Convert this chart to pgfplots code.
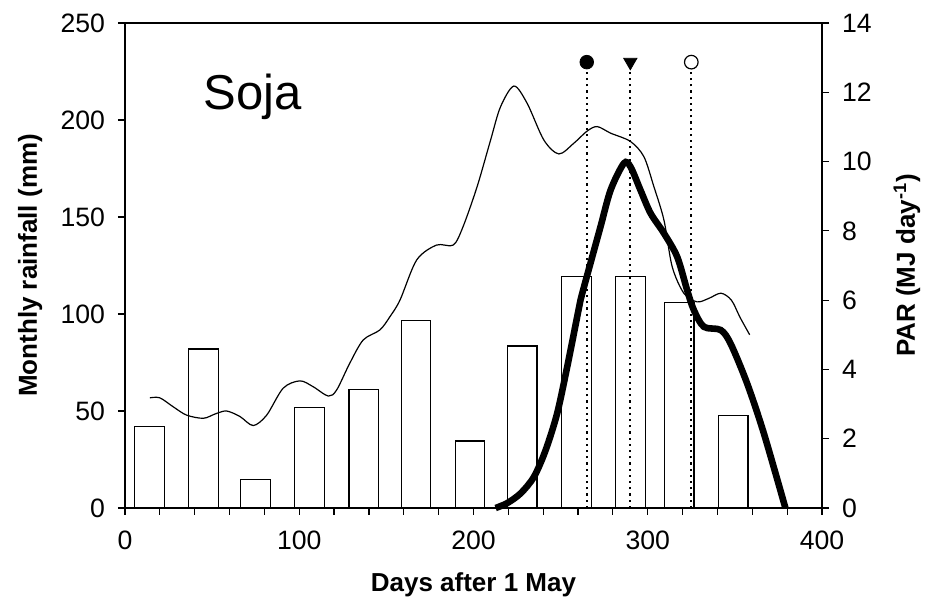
\documentclass[border=0pt]{standalone}
\usepackage{pgfplots}
\pgfplotsset{compat=1.18}
\usepackage{fontspec}
\setmainfont{Liberation Sans}
\begin{document}
\begin{tikzpicture}
\path[use as bounding box] (-62.5pt,-46pt) rectangle (401.5pt,254pt);
\pgfplotsset{
  every axis/.append style={
    width=348.5pt, height=242.5pt, scale only axis,
    at={(0pt,0pt)}, anchor=origin,
    xmin=0, xmax=400,
    tick align=outside,
    major tick length=3.5pt, minor tick length=3.5pt,
    tick style={line width=0.6pt, black},
    axis line style={line width=0.7pt},
    ticklabel style={font=\fontsize{13.3}{15}\selectfont},
    /pgf/number format/assume math mode=true,
  }
}
\begin{axis}[
  ymin=0, ymax=250,
  ytick={0,50,100,150,200,250},
  xtick={0,100,200,300,400},
  minor x tick num=4,
  xtick pos=bottom, ytick pos=left,
  yticklabel style={xshift=-3pt},
  xticklabel style={yshift=-4.5pt},
  ybar, bar width=17,
  xlabel={\bfseries Days after 1 May},
  ylabel={\bfseries Monthly rainfall (mm)},
  label style={font=\fontsize{13}{15}\selectfont},
  xlabel style={at={(axis description cs:0.5,-0.159)}, anchor=center},
  ylabel style={at={(axis description cs:-0.136,0.5)}, anchor=center, rotate=0},
]
\addplot[draw=black, fill=white, line width=0.6pt] coordinates {
  (14,42) (45,82) (75,14.5) (106,52) (137,61) (167,96.5)
  (198,34.5) (228,83.5) (259,119.5) (290,119.5) (318,106) (349,47.5)
};
\node[font=\fontsize{24.5}{28}\selectfont, anchor=center] at (axis cs:73.4,212) {Soja};
\end{axis}
\begin{axis}[
  ymin=0, ymax=14,
  ytick={0,2,4,6,8,10,12,14},
  axis x line=none, axis y line*=right,
  yticklabel style={xshift=3pt},
  clip=false,
  ylabel={\bfseries PAR (MJ day\textsuperscript{-1})},
  label style={font=\fontsize{13}{15}\selectfont},
  ylabel style={at={(axis description cs:1.122,0.5)}, anchor=center, rotate=0},
]
% dotted phenology lines
\addplot[black, dotted, line width=1.1pt] coordinates {(265,0) (265,12.87)};
\addplot[black, dotted, line width=1.1pt] coordinates {(290,0) (290,12.87)};
\addplot[black, dotted, line width=1.1pt] coordinates {(325,0) (325,12.87)};
\addplot[only marks, mark=*, mark size=3.4pt, black] coordinates {(265,12.87)};
\addplot[only marks, mark=triangle*, mark size=3.8pt, black, mark options={rotate=180}] coordinates {(290,12.87)};
\addplot[only marks, mark=*, mark size=3.4pt, draw=black, fill=white, line width=0.6pt] coordinates {(325,12.87)};
% thin line
\addplot[black, line width=0.6pt, smooth] coordinates {
(14.3,3.18) (20,3.18) (27.7,2.92) (35.4,2.68) (45,2.59) (52,2.72) (58.3,2.80)
(66,2.64) (73.6,2.38) (81.3,2.68) (90.8,3.46) (100.4,3.67) (108,3.50)
(116.7,3.23) (121.5,3.41) (129,4.18) (136.7,4.85) (146.3,5.14) (152,5.52)
(157.8,6.0) (167.4,7.16) (178.8,7.59) (188.4,7.59) (194,8.12) (202.1,9.28)
(209.8,10.62) (215.5,11.58) (223.2,12.18) (230.8,11.68) (240.4,10.62)
(249,10.22) (257.6,10.53) (265.2,10.88) (271,11.01) (278.7,10.82)
(290.1,10.58) (297.8,10.14) (303.5,9.28) (309.3,8.31) (314,6.97)
(320.7,6.20) (328.3,5.95) (335,6.05) (342,6.2) (348,6.0) (353,5.5) (358.5,5.0)
};
% thick line
\addplot[black, line width=3.3pt, smooth] coordinates {
(212.7,0) (219.3,0.14) (227,0.42) (234.7,0.90) (241.4,1.67) (248,2.73)
(253.8,4.08) (259.5,5.52) (261.4,6.0) (267.1,7.06) (272.9,8.12) (278.7,9.18)
(286.3,9.95) (290.1,9.85) (295.8,9.18) (301.6,8.51) (309.3,7.93) (316.9,7.25)
(322.6,6.29) (326.4,5.72) (332.2,5.23) (341.8,5.14) (347.5,4.75) (357,3.60)
(366.6,2.16) (379,0)
};
\end{axis}
\end{tikzpicture}
\end{document}
